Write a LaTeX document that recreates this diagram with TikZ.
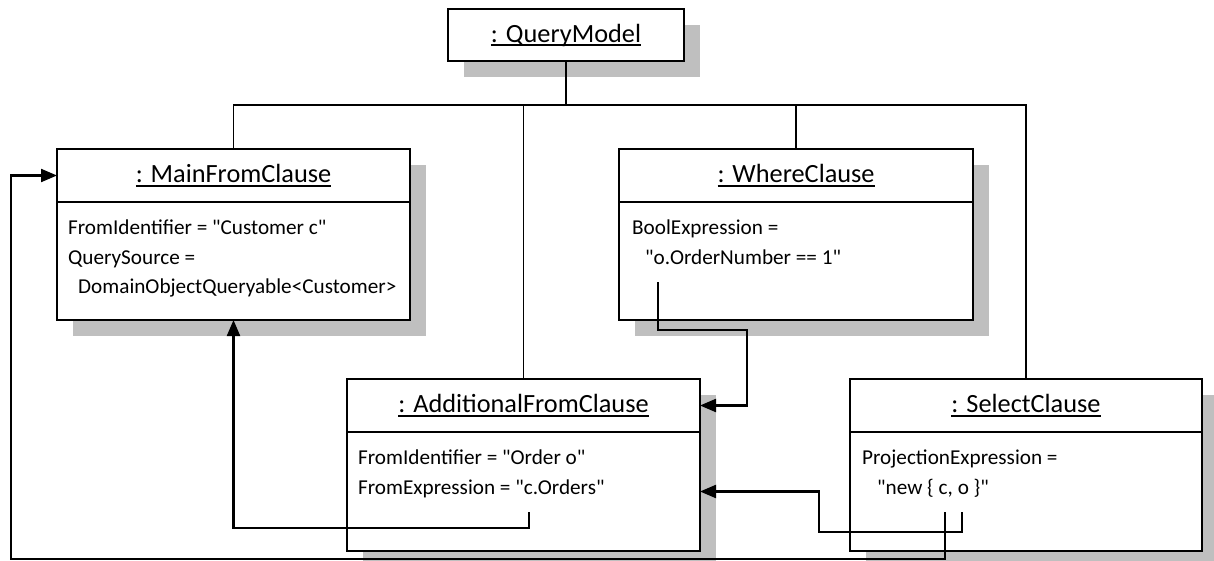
\documentclass[tikz,border=0pt]{standalone}
\usepackage{fontspec}
\setmainfont{Carlito}
\usetikzlibrary{arrows.meta,positioning,shadows,calc}
\definecolor{shadowgray}{RGB}{191,191,191}
\newcommand\objname[1]{\setbox0\hbox{#1}\rlap{\rule[-4pt]{\wd0}{1.8pt}}\box0}
\newcommand\dq{\textquotedbl}

\begin{document}
\begin{tikzpicture}[
  x=1pt, y=-1pt,
  obj/.style={draw,line width=1.6pt,fill=white,outer sep=0pt,inner sep=0pt,
    drop shadow={shadow xshift=16pt,shadow yshift=-16pt,fill=shadowgray,opacity=1}},
  hdr/.style={obj,minimum width=353pt,minimum height=53pt,font=\fontsize{26.3}{30}\selectfont},
  attrs/.style={obj,minimum width=353pt,minimum height=118pt},
  attrtext/.style={align=left,inner sep=0pt,anchor=north west,font=\fontsize{21.2}{29.5}\selectfont},
  link/.style={line width=1.3pt},
  ref/.style={line width=2.2pt,-{Triangle[length=16pt,width=13pt]}},
]
  \useasboundingbox (0,0) rectangle (1214,561);

  % object boxes
  \node[hdr,minimum width=236pt,minimum height=52pt] (qm) at (566,35) {\objname{: QueryModel}};

  \node[hdr] (mfc) at (233.5,175.5) {\objname{: MainFromClause}};
  \node[attrs,below=0pt of mfc] (mfcb) {};
  \node[attrtext,below right=18pt and 11pt of mfcb.north west] (mfct)
    {FromIdentifier = \dq Customer c\dq\\QuerySource =\\\hspace*{10pt}DomainObjectQueryable<Customer>};

  \node[hdr,minimum width=354pt] (wc) at (796,175.5) {\objname{: WhereClause}};
  \node[attrs,minimum width=354pt,below=0pt of wc] (wcb) {};
  \node[attrtext,below right=18pt and 13pt of wcb.north west] (wct)
    {BoolExpression =\\\hspace*{13pt}\dq o.OrderNumber == 1\dq};

  \node[hdr] (afc) at (523.5,405.5) {\objname{: AdditionalFromClause}};
  \node[attrs,minimum height=119pt,below=0pt of afc] (afcb) {};
  \node[attrtext,below right=18pt and 11pt of afcb.north west] (afct)
    {FromIdentifier = \dq Order o\dq\\FromExpression = \dq c.Orders\dq};

  \node[hdr,minimum width=352pt] (sc) at (1026,405.5) {\objname{: SelectClause}};
  \node[attrs,minimum width=352pt,minimum height=119pt,below=0pt of sc] (scb) {};
  \node[attrtext,below right=18pt and 12pt of scb.north west] (sct)
    {ProjectionExpression =\\\hspace*{15pt}\dq new \{ c, o \}\dq};

  % tree from the query model
  \coordinate (bus) at (0,105);
  \foreach \n in {mfc,afc,wc,sc}
    \draw[link] (qm.south) -- (qm.south |- bus) -| (\n.north);

  % references between clauses
  \coordinate (wexpr) at (658,282);
  \coordinate (aexpr) at (529,512);
  \coordinate (selc) at (945,512);
  \coordinate (selo) at (962,512);

  \draw[ref] (wexpr) -- ++(0,48) -| ([xshift=47pt]afc.east) -- (afc.east);
  \draw[ref] (aexpr) -- ++(0,16) -| (mfcb.south);
  \draw[ref] (selo) -- ++(0,20) -| ([xshift=119pt]afcb.east) -- (afcb.east);
  \draw[ref] (selc) -- ++(0,47) -| ([xshift=-46pt]mfc.west) -- (mfc.west);
\end{tikzpicture}
\end{document}
